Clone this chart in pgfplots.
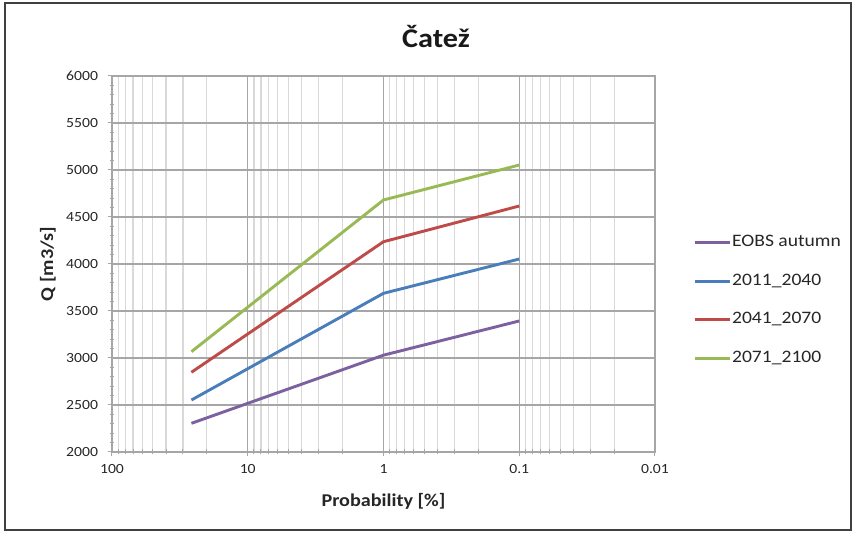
\documentclass[border=0pt]{standalone}
\usepackage{pgfplots}
\pgfplotsset{compat=1.18}
\usepackage{fontspec}
\setmainfont[FakeStretch=1.12]{Carlito}
\definecolor{cEOBS}{HTML}{7D60A0}
\definecolor{cA}{HTML}{4A7EBB}
\definecolor{cB}{HTML}{BE4B48}
\definecolor{cC}{HTML}{98B954}
\definecolor{gmaj}{HTML}{A6A6A6}
\definecolor{gmin}{HTML}{D9D9D9}
\begin{document}
\begin{tikzpicture}
\useasboundingbox (-112pt,-82pt) rectangle (742pt,452pt);
\draw[line width=2.5pt, black!75] (-107pt,-78pt) rectangle (739pt,449pt);
\begin{axis}[
  at={(0pt,0pt)}, anchor=south west,
  scale only axis, width=543pt, height=376pt,
  xmode=log, x dir=reverse, xmin=0.01, xmax=100,
  xtick={100,10,1,0.1,0.01}, xticklabels={100,10,1,0.1,0.01},
  minor xtick={90,80,70,60,50,40,30,20,9,8,7,6,5,4,3,2,0.9,0.8,0.7,0.6,0.5,0.4,0.3,0.2,0.09,0.08,0.07,0.06,0.05,0.04,0.03,0.02},
  ymin=2000, ymax=6000, ytick distance=500, minor y tick num=4,
  /pgf/number format/assume math mode=true,
  /pgf/number format/1000 sep={},
  xtick pos=lower, ytick pos=left,
  tick align=center,
  major tick length=9pt, minor tick length=5pt,
  every tick/.style={gmaj, line width=1pt},
  axis line style={gmaj, line width=1.2pt},
  xmajorgrids=true, xminorgrids=true, ymajorgrids=true, yminorgrids=false,
  major grid style={gmaj, line width=1.2pt},
  minor x grid style={gmin, line width=1.2pt},
  tick label style={font=\fontsize{14}{16}\selectfont, text=black!85},
  xticklabel style={yshift=-4pt},
  yticklabel style={xshift=-6pt},
  xlabel={Probability [\%]},
  ylabel={Q [m3/s]},
  label style={font=\fontsize{18}{20}\selectfont\bfseries, text=black!85},
  xlabel style={at={(axis description cs:0.5,-0.130)}, anchor=center},
  ylabel style={at={(axis description cs:-0.118,0.5)}, anchor=center},
  legend style={at={(axis description cs:1.07,0.403)}, anchor=west,
    draw=none, fill=none, font=\fontsize{17.5}{20}\selectfont,
    row sep=20.5pt, inner sep=0pt,
    nodes={inner sep=1pt, text height=12pt, text depth=4pt, text=black!85}},
  legend cell align=left,
  legend image code/.code={\draw[#1] (0pt,0pt) -- (35pt,0pt);},
  every axis plot/.append style={line width=2.9pt},
]
\addplot[cEOBS, no marks] coordinates {(26,2305) (1,3030) (0.1,3394)};
\addlegendentry{EOBS autumn}
\addplot[cA, no marks] coordinates {(26,2553) (1,3688) (0.1,4053)};
\addlegendentry{2011\_2040}
\addplot[cB, no marks] coordinates {(26,2848) (1,4237) (0.1,4617)};
\addlegendentry{2041\_2070}
\addplot[cC, no marks] coordinates {(26,3067) (1,4681) (0.1,5053)};
\addlegendentry{2071\_2100}
\end{axis}
\node[anchor=base, font=\fontsize{27}{30}\selectfont\bfseries, text=black!90] at (324pt,404pt) {Čatež};
\end{tikzpicture}
\end{document}
